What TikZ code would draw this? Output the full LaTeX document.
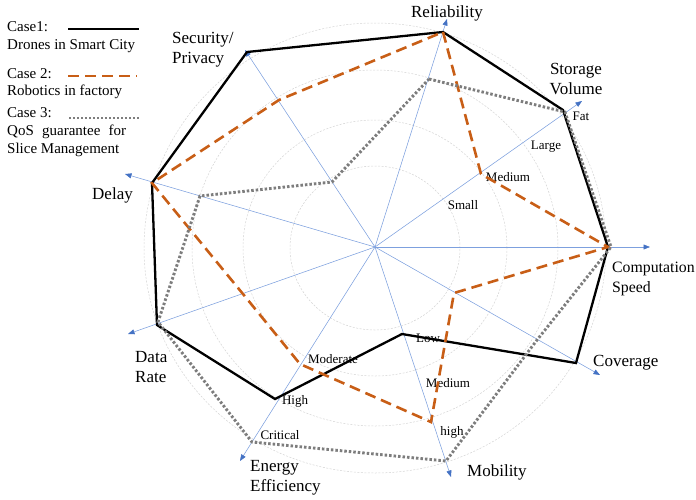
\documentclass[tikz,border=0pt]{standalone}
\usepackage{fontspec}
\setmainfont{Liberation Serif}
\usetikzlibrary{arrows.meta}
\definecolor{axisblue}{RGB}{125,160,222}
\definecolor{tipblue}{RGB}{68,114,196}
\definecolor{caseorange}{RGB}{200,94,22}
\definecolor{casegrey}{RGB}{125,125,125}
\definecolor{gridgrey}{RGB}{212,212,212}
\begin{document}
\begin{tikzpicture}[x=1pt,y=-1pt,
  ring/.style={draw=gridgrey, line width=0.5pt, dash pattern=on 2pt off 1.5pt},
  axisline/.style={draw=axisblue, line width=0.55pt, -{Triangle[length=6.5pt,width=5pt,color=tipblue]}},
  caseone/.style={draw=black, line width=2.3pt, line join=miter},
  casetwo/.style={draw=caseorange, line width=2.6pt, line join=miter, dash pattern=on 11pt off 6pt},
  casethree/.style={draw=casegrey, line width=2.9pt, line join=miter, dash pattern=on 2.5pt off 2pt},
  axlabel/.style={font=\fontsize{17}{20}\selectfont, inner sep=0pt},
  leglabel/.style={font=\fontsize{15}{18}\selectfont, inner sep=0pt, anchor=west},
  scalelabel/.style={font=\fontsize{13}{15}\selectfont, inner sep=0pt}]
\useasboundingbox (0,0) rectangle (696,499);

% centre and axis tips
\coordinate (C) at (375,247);
\coordinate (tComp) at (650,247);
\coordinate (tStor) at (582,101);
\coordinate (tReli) at (447,19);
\coordinate (tSecu) at (245,50);
\coordinate (tDela) at (125,174);
\coordinate (tData) at (128,334);
\coordinate (tEner) at (240,461);
\coordinate (tMobi) at (451,477);
\coordinate (tCove) at (600,375);

% grid rings
\coordinate (R) at (375,248);
\foreach \rx/\ry in {85/82,132/128,183/178,231/225}
  \draw[ring] (R) ellipse [x radius=\rx pt, y radius=\ry pt];

% axes
\foreach \t in {tComp,tStor,tReli,tSecu,tDela,tData,tEner,tMobi,tCove}
  \draw[axisline] (C) -- (\t);

% axis labels
\node[axlabel] (lReli) at (447,13) {Reliability};
\node[axlabel, align=center] (lStor) at (576,79) {Storage\\Volume};
\node[axlabel, align=left, anchor=west, font=\fontsize{15.8}{20}\selectfont] (lComp) at (612,279) {Computation\\Speed};
\node[axlabel, anchor=west] (lCove) at (593,363) {Coverage};
\node[axlabel, anchor=west] (lMobi) at (467,472) {Mobility};
\node[axlabel, align=left, anchor=west] (lEner) at (250,478) {Energy\\Efficiency};
\node[axlabel, align=left, anchor=west] (lData) at (135,367) {Data\\Rate};
\node[axlabel, anchor=east] (lDela) at (133,195) {Delay};
\node[axlabel, align=left, anchor=west] (lSecu) at (172,50) {Security/\\Privacy};

% scale labels
\node[scalelabel] (sSmall) at (463,205) {Small};
\node[scalelabel] (sMedS) at (508,177) {Medium};
\node[scalelabel] (sLarge) at (546,147) {Large};
\node[scalelabel] (sFat) at (581,116) {Fat};
\node[scalelabel] (sLow) at (428,338) {Low};
\node[scalelabel] (sMedM) at (448,383) {Medium};
\node[scalelabel] (sHighM) at (452,432) {high};
\node[scalelabel] (sMod) at (333,359) {Moderate};
\node[scalelabel] (sHigh) at (295,401) {High};
\node[scalelabel] (sCrit) at (280,435) {Critical};

% case 1 points
\coordinate (a1) at (443,32);
\coordinate (a2) at (563,110);
\coordinate (a3) at (608,247);
\coordinate (a4) at (576,363);
\coordinate (a5) at (402,334);
\coordinate (a6) at (275,399);
\coordinate (a7) at (157,325);
\coordinate (a8) at (152,183);
\coordinate (a9) at (247,52);
% case 2 points
\coordinate (b1) at (443,32);
\coordinate (b2) at (481,174);
\coordinate (b3) at (608,247);
\coordinate (b4) at (454,293);
\coordinate (b5) at (431,422);
\coordinate (b6) at (300,364);
\coordinate (b7) at (243,294);
\coordinate (b8) at (152,183);
\coordinate (b9) at (279,100);
% case 3 points
\coordinate (c1) at (429,79);
\coordinate (c2) at (565,112);
\coordinate (c3) at (611,247);
\coordinate (c4) at (537,340);
\coordinate (c5) at (446,461);
\coordinate (c6) at (252,442);
\coordinate (c7) at (158,322);
\coordinate (c8) at (200,196);
\coordinate (c9) at (332,182);

\draw[caseone] (a1) -- (a2) -- (a3) -- (a4) -- (a5) -- (a6) -- (a7) -- (a8) -- (a9) -- cycle;
\draw[casetwo] (b1) -- (b2) -- (b3) -- (b4) -- (b5) -- (b6) -- (b7) -- (b8) -- (b9) -- cycle;
\draw[casethree] (c1) -- (c2) -- (c3) -- (c4) -- (c5) -- (c6) -- (c7) -- (c8) -- (c9) -- cycle;

% legend
\node[leglabel] (g1) at (7,27) {Case1:};
\node[leglabel] (g1b) at (7,46) {Drones in Smart City};
\node[leglabel] (g2) at (7,74) {Case 2:};
\node[leglabel] (g2b) at (7,92) {Robotics in factory};
\node[leglabel] (g3) at (7,113) {Case 3:};
\node[leglabel] (g3b) at (7,132) {QoS\hspace{0.55em}guarantee\hspace{0.55em}for};
\node[leglabel] (g3c) at (7,150) {Slice Management};
\coordinate (k1s) at (68,29);  \coordinate (k1e) at (139,29);
\coordinate (k2s) at (68,76);  \coordinate (k2e) at (137,76);
\coordinate (k3s) at (69,118); \coordinate (k3e) at (141,118);
\draw[caseone] (k1s) -- (k1e);
\draw[casetwo] (k2s) -- (k2e);
\draw[casethree, line width=2pt, dash pattern=on 1.5pt off 2.5pt] (k3s) -- (k3e);
\end{tikzpicture}
\end{document}
